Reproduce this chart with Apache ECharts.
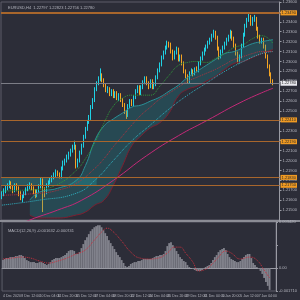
<!DOCTYPE html>
<html>
<head>
<meta charset="utf-8">
<script src="https://cdn.jsdelivr.net/npm/echarts@6/dist/echarts.min.js"></script>
<style>
html, body { margin: 0; padding: 0; background: #2c2d38; }
#main { width: 300px; height: 300px; }
</style>
</head>
<body>
<div id="main"></div>
<script>
// EURUSD H4 candles
var opens = [1.2164,1.2166,1.2169,1.2172,1.2174,1.2177,1.2173,1.2170,1.2175,1.2172,1.2167,1.2163,1.2164,1.2167,1.2171,1.2173,1.2175,1.2172,1.2169,1.2165,1.2169,1.2174,1.2180,1.2170,1.2168,1.2175,1.2178,1.2180,1.2183,1.2185,1.2188,1.2186,1.2184,1.2192,1.2197,1.2200,1.2203,1.2206,1.2210,1.2213,1.2214,1.2195,1.2200,1.2208,1.2215,1.2224,1.2232,1.2239,1.2243,1.2254,1.2261,1.2272,1.2278,1.2282,1.2286,1.2281,1.2276,1.2271,1.2272,1.2267,1.2270,1.2265,1.2268,1.2263,1.2266,1.2261,1.2256,1.2249,1.2246,1.2255,1.2260,1.2257,1.2264,1.2270,1.2274,1.2268,1.2274,1.2279,1.2283,1.2278,1.2275,1.2280,1.2274,1.2277,1.2284,1.2291,1.2297,1.2304,1.2309,1.2314,1.2318,1.2317,1.2310,1.2304,1.2309,1.2312,1.2302,1.2305,1.2298,1.2290,1.2285,1.2280,1.2288,1.2290,1.2288,1.2292,1.2291,1.2298,1.2303,1.2308,1.2312,1.2315,1.2319,1.2322,1.2326,1.2329,1.2324,1.2313,1.2305,1.2310,1.2314,1.2318,1.2322,1.2325,1.2329,1.2323,1.2316,1.2308,1.2300,1.2305,1.2316,1.2327,1.2336,1.2342,1.2345,1.2338,1.2342,1.2343,1.2333,1.2325,1.2320,1.2322,1.2315,1.2305,1.2295,1.2287,1.2280];
var closes = [1.2166,1.2169,1.2172,1.2174,1.2177,1.2173,1.2170,1.2175,1.2172,1.2167,1.2163,1.2164,1.2167,1.2171,1.2173,1.2175,1.2172,1.2169,1.2165,1.2169,1.2174,1.2180,1.2170,1.2168,1.2175,1.2178,1.2180,1.2183,1.2185,1.2188,1.2186,1.2184,1.2192,1.2197,1.2200,1.2203,1.2206,1.2210,1.2213,1.2214,1.2195,1.2200,1.2208,1.2215,1.2224,1.2232,1.2239,1.2243,1.2254,1.2261,1.2272,1.2278,1.2282,1.2286,1.2281,1.2276,1.2271,1.2272,1.2267,1.2270,1.2265,1.2268,1.2263,1.2266,1.2261,1.2256,1.2249,1.2246,1.2255,1.2260,1.2257,1.2264,1.2270,1.2274,1.2268,1.2274,1.2279,1.2283,1.2278,1.2275,1.2280,1.2274,1.2277,1.2284,1.2291,1.2297,1.2304,1.2309,1.2314,1.2318,1.2317,1.2310,1.2304,1.2309,1.2312,1.2302,1.2305,1.2298,1.2290,1.2285,1.2280,1.2288,1.2290,1.2288,1.2292,1.2291,1.2298,1.2303,1.2308,1.2312,1.2315,1.2319,1.2322,1.2326,1.2329,1.2324,1.2313,1.2305,1.2310,1.2314,1.2318,1.2322,1.2325,1.2329,1.2323,1.2316,1.2308,1.2300,1.2305,1.2316,1.2327,1.2336,1.2342,1.2345,1.2338,1.2342,1.2343,1.2333,1.2325,1.2320,1.2322,1.2315,1.2305,1.2295,1.2287,1.2280,1.2278];
var lows = [1.2161,1.2164,1.2167,1.2170,1.2172,1.2171,1.2167,1.2168,1.2169,1.2164,1.2160,1.2158,1.2162,1.2165,1.2169,1.2171,1.2170,1.2166,1.2162,1.2163,1.2167,1.2172,1.2148,1.2163,1.2166,1.2173,1.2176,1.2178,1.2181,1.2183,1.2184,1.2182,1.2182,1.2190,1.2195,1.2198,1.2201,1.2204,1.2208,1.2211,1.2192,1.2193,1.2198,1.2206,1.2213,1.2222,1.2230,1.2237,1.2241,1.2252,1.2259,1.2270,1.2276,1.2280,1.2279,1.2274,1.2269,1.2268,1.2265,1.2265,1.2263,1.2263,1.2261,1.2260,1.2259,1.2254,1.2247,1.2242,1.2244,1.2253,1.2255,1.2255,1.2262,1.2268,1.2266,1.2266,1.2272,1.2277,1.2276,1.2272,1.2273,1.2272,1.2272,1.2275,1.2282,1.2289,1.2295,1.2302,1.2307,1.2312,1.2314,1.2308,1.2301,1.2302,1.2307,1.2300,1.2300,1.2296,1.2288,1.2283,1.2278,1.2278,1.2286,1.2285,1.2286,1.2289,1.2289,1.2296,1.2301,1.2306,1.2310,1.2313,1.2317,1.2320,1.2324,1.2322,1.2311,1.2302,1.2303,1.2308,1.2312,1.2316,1.2320,1.2323,1.2321,1.2314,1.2306,1.2298,1.2298,1.2303,1.2314,1.2325,1.2334,1.2340,1.2336,1.2336,1.2340,1.2331,1.2323,1.2318,1.2318,1.2313,1.2303,1.2293,1.2285,1.2278,1.2276];
var highs = [1.2169,1.2172,1.2175,1.2177,1.2180,1.2179,1.2175,1.2177,1.2177,1.2174,1.2169,1.2166,1.2169,1.2173,1.2176,1.2178,1.2177,1.2174,1.2171,1.2171,1.2176,1.2183,1.2182,1.2173,1.2177,1.2180,1.2183,1.2185,1.2188,1.2191,1.2190,1.2188,1.2194,1.2200,1.2202,1.2206,1.2209,1.2212,1.2216,1.2220,1.2216,1.2202,1.2210,1.2217,1.2226,1.2234,1.2241,1.2246,1.2256,1.2263,1.2274,1.2280,1.2285,1.2293,1.2288,1.2283,1.2278,1.2275,1.2274,1.2272,1.2272,1.2270,1.2270,1.2268,1.2268,1.2263,1.2258,1.2251,1.2257,1.2262,1.2262,1.2266,1.2272,1.2276,1.2276,1.2276,1.2281,1.2285,1.2285,1.2280,1.2282,1.2282,1.2279,1.2286,1.2293,1.2299,1.2306,1.2311,1.2316,1.2321,1.2320,1.2319,1.2312,1.2311,1.2315,1.2314,1.2307,1.2307,1.2300,1.2292,1.2287,1.2290,1.2293,1.2292,1.2294,1.2295,1.2300,1.2305,1.2310,1.2314,1.2317,1.2321,1.2324,1.2328,1.2332,1.2331,1.2326,1.2315,1.2312,1.2316,1.2320,1.2324,1.2327,1.2332,1.2331,1.2325,1.2318,1.2310,1.2307,1.2318,1.2329,1.2338,1.2344,1.2348,1.2347,1.2345,1.2347,1.2345,1.2335,1.2327,1.2324,1.2324,1.2317,1.2307,1.2297,1.2289,1.2282];

// moving averages, [bar index, price]
var maFast = [[0,1.2169],[10,1.2170],[20,1.2171],[30,1.2176],[40,1.2190],[45,1.2202],[50,1.2218],[55,1.2238],[60,1.2255],[65,1.2263],[70,1.2266],[75,1.2266],[80,1.2266],[85,1.2275],[90,1.2286],[95,1.2296],[100,1.2299],[105,1.2300],[110,1.2299],[115,1.2303],[120,1.2308],[125,1.2314],[130,1.2317],[135,1.2323],[140,1.2326],[146,1.2318]];
var maMid = [[0,1.2165],[20,1.2167],[30,1.2170],[40,1.2177],[50,1.2192],[55,1.2202],[60,1.2214],[65,1.2225],[70,1.2236],[75,1.2246],[80,1.2254],[85,1.2262],[90,1.2268],[95,1.2274],[100,1.2280],[105,1.2284],[110,1.2288],[115,1.2292],[120,1.2297],[125,1.2302],[130,1.2305],[135,1.2308],[140,1.2310],[146,1.2310]];
var maSlow = [[0,1.2155],[20,1.2160],[40,1.2167],[50,1.2180],[60,1.2200],[70,1.2220],[80,1.2236],[90,1.2252],[100,1.2266],[110,1.2278],[120,1.2290],[130,1.2300],[140,1.2308],[146,1.2310]];
var maLong = [[0,1.2128],[15,1.2140],[30,1.2150],[43,1.2160],[60,1.2180],[78,1.2205],[95,1.2225],[110,1.2240],[130,1.2260],[146,1.2273]];

// cloud
var cloudIdx = [15,20,30,40,45,50,55,60,65,70,75,80,85,90,95,100,105,110,115,120,125,130,135,140,146];
var cloudTop = [1.2160,1.2168,1.2172,1.2180,1.2195,1.2220,1.2235,1.2242,1.2248,1.2254,1.2256,1.2260,1.2264,1.2270,1.2276,1.2284,1.2290,1.2296,1.2302,1.2308,1.2310,1.2314,1.2318,1.2320,1.2322];
var cloudBottom = [1.2145,1.2142,1.2142,1.2145,1.2148,1.2155,1.2160,1.2175,1.2195,1.2215,1.2225,1.2233,1.2238,1.2248,1.2265,1.2272,1.2275,1.2280,1.2285,1.2292,1.2298,1.2300,1.2304,1.2308,1.2312];

// horizontal levels and zone
var levels = [1.2349, 1.2241, 1.2219, 1.2183, 1.2175];
var zone = [1.2183, 1.2175];
var zoneEnd = 51;
var lastPrice = 1.2278;

// MACD, in 0.00001
var macdHist = [59,67,74,74,81,81,81,89,89,96,96,89,74,59,52,44,44,44,37,37,44,44,37,30,22,30,44,59,67,74,74,74,81,89,96,111,126,133,133,126,104,104,118,148,178,207,229,252,274,289,303,311,318,318,303,281,259,237,207,185,163,141,118,96,81,59,37,15,7,15,30,37,44,44,52,52,59,67,67,67,67,67,74,81,89,89,96,96,104,126,163,185,192,170,148,126,104,81,67,52,44,22,7,0,-7,-15,-22,-22,-22,-15,-7,7,15,22,37,59,81,96,118,133,141,148,133,104,81,67,59,52,44,44,52,67,81,96,104,104,74,37,22,7,-7,-22,-44,-74,-104,-133,-163];
var macdSignal = [[0,67],[5,74],[10,81],[15,74],[20,52],[25,37],[30,52],[35,74],[40,104],[45,133],[50,207],[55,281],[57,296],[60,274],[65,200],[70,118],[75,74],[80,67],[85,74],[90,111],[94,155],[97,155],[100,111],[104,44],[107,-22],[110,-15],[114,22],[118,81],[122,126],[125,111],[130,67],[135,81],[139,59],[143,-15],[146,-74]];

var timeLabels = ['4 Dec 2020','8 Dec 12:00','10 Dec 04:00','11 Dec 20:00','15 Dec 12:00','17 Dec 04:00','18 Dec 20:00','22 Dec 12:00','24 Dec 04:00','25 Dec 20:00','29 Dec 12:00','31 Dec 04:00','1 Jan 20:00','5 Jan 12:00','7 Jan 04:00'];
var barCount = 150;
var labelStep = 10;

var cats = [];
for (var i = 0; i < barCount; i++) {
    cats.push(i % labelStep === 0 && timeLabels[i / labelStep] ? timeLabels[i / labelStep] : '');
}

var candleData = opens.map(function (o, i) {
    return [o, closes[i], lows[i], highs[i]];
});
var cloudBase = cloudIdx.map(function (x, i) { return [x, cloudBottom[i]]; });
var cloudBand = cloudIdx.map(function (x, i) { return [x, +(cloudTop[i] - cloudBottom[i]).toFixed(4)]; });
var cloudTopLine = cloudIdx.map(function (x, i) { return [x, cloudTop[i]]; });

var txt = '#b4b5be';
var small = 4;
var tiny = 3.5;
var font = '"Liberation Sans Narrow", "Liberation Sans", sans-serif';
var levelColor = '#a8662c';

function maLine(data, color, type) {
    return {
        type: 'line', xAxisIndex: 0, yAxisIndex: 0, data: data, smooth: true,
        symbol: 'none', silent: true,
        lineStyle: { color: color, width: 1, type: type }
    };
}

var levelLines = levels.map(function (p, i) {
    return {
        yAxis: p,
        lineStyle: { color: levelColor, width: i === 0 ? 2 : 1, type: 'solid', opacity: 1 },
        label: { backgroundColor: '#f09a22', color: '#2a2a2a' }
    };
});
levelLines.push({
    yAxis: lastPrice,
    lineStyle: { color: '#7c7d86', width: 1, type: 'solid', opacity: 1 },
    label: { backgroundColor: '#e8e8ee', color: '#2a2a2a' }
});

var myChart = echarts.init(document.getElementById('main'));
var option = {
    animation: false,
    backgroundColor: '#2c2d38',
    textStyle: { fontFamily: font },
    title: [{
        text: 'EURUSD,H4  1.22797 1.22823 1.22756 1.22780',
        left: 3, top: 1,
        textStyle: { color: txt, fontSize: small, fontWeight: 'normal', fontFamily: font }
    }, {
        text: 'MACD(12,26,9) -0.001632 -0.000741',
        left: 3, top: 224,
        textStyle: { color: txt, fontSize: small, fontWeight: 'normal', fontFamily: font }
    }],
    grid: [
        { left: 1, right: 14, top: 0, height: 220, show: true, borderColor: '#5c5d68', borderWidth: 1 },
        { left: 1, right: 14, top: 222, height: 69, show: true, borderColor: '#5c5d68', borderWidth: 1 }
    ],
    xAxis: [{
        type: 'category', gridIndex: 0, data: cats,
        axisLine: { show: false }, axisTick: { show: false }, axisLabel: { show: false }
    }, {
        type: 'category', gridIndex: 1, data: cats,
        axisLine: { lineStyle: { color: '#9a9ba4' } },
        axisTick: { show: false },
        axisLabel: { interval: 0, color: txt, fontSize: tiny, fontFamily: font, align: 'left', margin: 3 }
    }],
    yAxis: [{
        type: 'value', gridIndex: 0, position: 'right',
        min: 1.2140, max: 1.2360, interval: 0.001,
        axisLine: { show: true, lineStyle: { color: '#9a9ba4' } },
        axisTick: { show: true, length: 2 },
        splitLine: { show: false },
        axisLabel: {
            color: txt, fontSize: small, fontFamily: font, margin: 3, showMinLabel: false,
            formatter: function (v) { return v.toFixed(5); }
        }
    }, {
        type: 'value', gridIndex: 1, position: 'right',
        min: -171, max: 342, interval: 171,
        axisLine: { show: true, lineStyle: { color: '#9a9ba4' } },
        axisTick: { show: true, length: 2 },
        splitLine: { show: false },
        axisLabel: {
            color: txt, fontSize: small, fontFamily: font, margin: 3,
            formatter: function (v) {
                if (v === 0) return '0.00';
                if (v === 171) return '';
                return (v / 100000).toFixed(6);
            }
        }
    }],
    graphic: [{
        type: 'rect', left: 0, top: 220, shape: { width: 300, height: 2 },
        style: { fill: '#8b8c95' }, silent: true
    }],
    series: [
        {
            type: 'line', xAxisIndex: 0, yAxisIndex: 0, data: cloudBase, stack: 'cloud',
            smooth: true, symbol: 'none', silent: true,
            lineStyle: { color: '#7e1f30', width: 1 }
        },
        {
            type: 'line', xAxisIndex: 0, yAxisIndex: 0, data: cloudBand, stack: 'cloud',
            smooth: true, symbol: 'none', silent: true,
            lineStyle: { width: 0 },
            areaStyle: { color: 'rgba(28,150,158,0.38)' }
        },
        {
            type: 'line', xAxisIndex: 0, yAxisIndex: 0, data: cloudTopLine,
            smooth: true, symbol: 'none', silent: true,
            lineStyle: { color: '#2a8f96', width: 1 }
        },
        maLine(maLong, '#c42a78', 'solid'),
        maLine(maSlow, '#2fb3c4', 'dotted'),
        maLine(maMid, '#b3323e', 'dotted'),
        maLine(maFast, '#2f9a3a', 'dotted'),
        {
            // levels, zone and last price, under the candles
            type: 'line', xAxisIndex: 0, yAxisIndex: 0, data: [],
            silent: true, symbol: 'none', color: levelColor,
            markArea: {
                silent: true,
                itemStyle: { color: 'rgba(40,165,170,0.35)' },
                data: [[{ xAxis: 0, yAxis: zone[0] }, { xAxis: zoneEnd, yAxis: zone[1] }]]
            },
            markLine: {
                symbol: 'none', silent: true, animation: false, precision: 5,
                lineStyle: { color: levelColor, width: 1, type: 'solid', opacity: 1 },
                emphasis: { disabled: true },
                label: {
                    position: 'end', distance: 1, fontSize: small, fontFamily: font, padding: [1, 1, 0, 1],
                    formatter: function (p) { return p.value.toFixed(5); }
                },
                data: levelLines
            }
        },
        {
            type: 'candlestick', xAxisIndex: 0, yAxisIndex: 0, data: candleData,
            barWidth: '65%',
            itemStyle: {
                color: '#1fd2e4', color0: '#f4a423',
                borderColor: '#1fd2e4', borderColor0: '#f4a423', borderWidth: 1
            }
        },
        {
            type: 'bar', xAxisIndex: 1, yAxisIndex: 1, data: macdHist,
            barWidth: '100%', silent: true,
            itemStyle: { color: '#80818b' }
        },
        {
            type: 'line', xAxisIndex: 1, yAxisIndex: 1, data: macdSignal,
            smooth: true, symbol: 'none', silent: true,
            lineStyle: { color: '#c8303e', width: 1, type: 'dotted' }
        }
    ]
};
myChart.setOption(option);
</script>
</body>
</html>
